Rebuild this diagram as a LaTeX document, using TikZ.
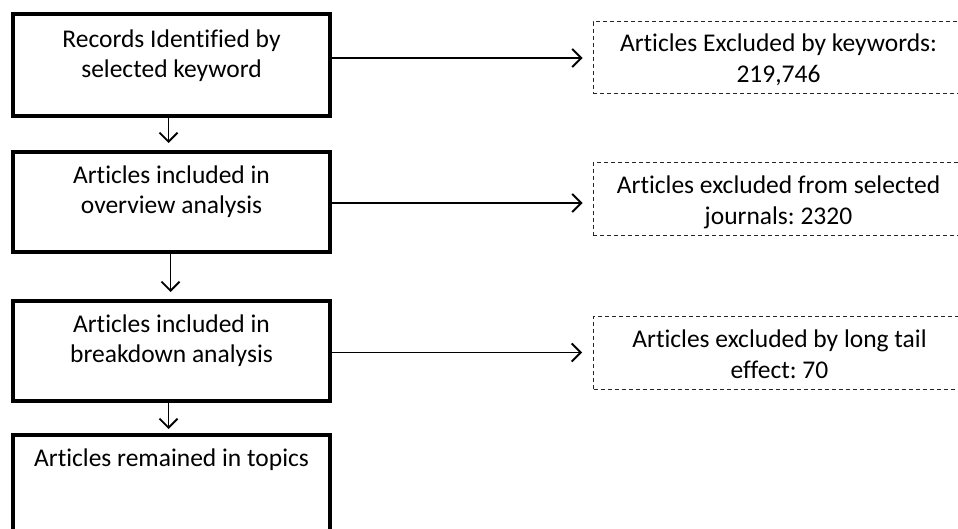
\documentclass[tikz,border=0pt]{standalone}
\usepackage{fontspec}
\setmainfont[RawFeature=-liga]{Carlito}
\usetikzlibrary{arrows.meta}
\frenchspacing
\begin{document}
\begin{tikzpicture}[x=1pt,y=-1pt,
  mainbox/.style={draw=black,line width=4pt,rectangle,minimum width=317pt,inner sep=0pt},
  sidebox/.style={draw=black!85,line width=1pt,dash pattern=on 4pt off 3pt,rectangle,
     minimum width=370pt,inner sep=0pt,align=center},
  sidetxt/.style={align=center,inner sep=0pt,font=\fontsize{25.5}{31}\selectfont},
  lbl/.style={align=center,inner sep=0pt,font=\fontsize{25.5}{30}\selectfont},
  arr/.style={line width=1.9pt,-{Straight Barb[length=9pt,width=18pt,line width=1.9pt]}}]
\useasboundingbox (0,0) rectangle (958,529);
\clip (0,0) rectangle (958,529);
\fill[white] (0,0) rectangle (958,529);
% left boxes
\node[mainbox,minimum height=102pt] (b1) at (171.5,65) {};
\node[mainbox,minimum height=100pt] (b2) at (171.5,202) {};
\node[mainbox,minimum height=100pt] (b3) at (171.5,351) {};
\node[mainbox,minimum height=105pt] (b4) at (171.5,487.5) {};
\node[lbl] (t1) at (171.5,55.5) {Records Identified by\\selected keyword};
\node[lbl] (t2) at (171.5,192) {Articles included in\\overview analysis};
\node[lbl] (t3) at (171.5,340.5) {Articles included in\\breakdown analysis};
\node[lbl,anchor=base] (t4) at (171.5,466) {Articles remained in topics};
% right boxes
\node[sidebox,minimum height=72pt] (r1) at (778,58) {};
\node[sidebox,minimum height=73pt] (r2) at (778,199.5) {};
\node[sidebox,minimum height=73pt] (r3) at (778.5,352.5) {};
\node[sidetxt] (s1) at (778.5,60) {Articles Excluded by keywords:\\219,746};
\node[sidetxt] (s2) at (778.5,202) {Articles excluded from selected\\journals: 2320};
\node[sidetxt] (s3) at (779.5,354) {Articles excluded by long tail\\effect: 70};
% vertical arrows
\draw[arr] ([xshift=-3pt]b1.south) -- ([xshift=-3pt,yshift=7pt]b2.north);
\draw[arr] ([xshift=-1pt]b2.south) -- ([xshift=-1pt,yshift=7pt]b3.north);
\draw[arr] ([xshift=-3pt]b3.south) -- ([xshift=-3pt,yshift=4pt]b4.north);
% horizontal arrows
\draw[arr] (b1.east |- r1.west) -- ([xshift=-10pt]r1.west);
\draw[arr] (b2.east |- 0,203) -- ([xshift=-10pt]r2.west |- 0,203);
\draw[arr] (b3.east |- r3.west) -- ([xshift=-11pt]r3.west);
\end{tikzpicture}
\end{document}
